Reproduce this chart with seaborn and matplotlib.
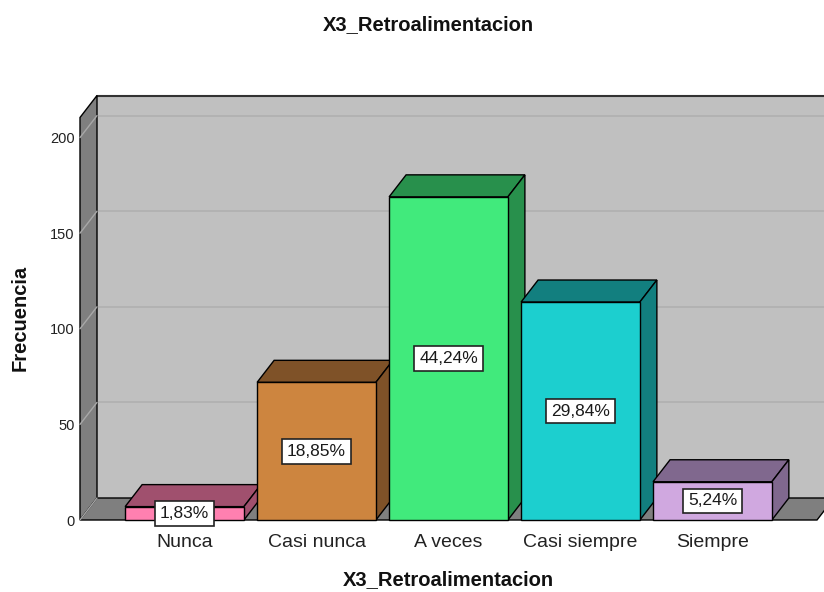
import numpy as np
import pandas as pd
import matplotlib
matplotlib.use("Agg")
import matplotlib.pyplot as plt
import seaborn as sns
from matplotlib.patches import Polygon, Rectangle

# ---- data ----
categories = ["Nunca", "Casi nunca", "A veces", "Casi siempre", "Siempre"]
frecuencia = [7, 72, 169, 114, 20]
porcentajes = ["1,83%", "18,85%", "44,24%", "29,84%", "5,24%"]
y_ticks = [0, 50, 100, 150, 200]
front_colors = ["#FF80B0", "#CD853F", "#41EA7C", "#1CCFCF", "#D0A8E0"]
shade_colors = ["#A0506E", "#7F5228", "#28904C", "#127F7F", "#80688E"]
title = "X3_Retroalimentacion"
xlabel = "X3_Retroalimentacion"
ylabel = "Frecuencia"

sns.set_theme(style="white")
plt.rcParams['font.family'] = ['Liberation Sans', 'DejaVu Sans']

W, H = 824, 592
fig = plt.figure(figsize=(W / 100, H / 100), dpi=100)
L, R, B, T = 80, 817, 520, 117.5
ax = fig.add_axes([L / W, 1 - B / H, (R - L) / W, (B - T) / H])
ax.patch.set_visible(False)

df = pd.DataFrame({"cat": categories, "freq": frecuencia})
sns.barplot(data=df, x="cat", y="freq", hue="cat", palette=front_colors,
            width=0.9, edgecolor="black", linewidth=1, ax=ax,
            legend=False, saturation=1)
bars = sorted([p for p in ax.patches if isinstance(p, Rectangle)], key=lambda p: p.get_x())

x0, x1 = -0.792, 4.792
ytop = 210.5
ax.set_xlim(x0, x1)
ax.set_ylim(0, ytop)

# depth offsets (pixels -> data)
DXp, DYp = 17, 22
dx = DXp * (x1 - x0) / (R - L)
dy = DYp * ytop / (B - T)

wall_gray = "#C0C0C0"
side_gray = "#7F7F7F"

# back wall
ax.add_patch(Polygon([(x0 + dx, dy), (x1 + dx, dy), (x1 + dx, ytop + dy), (x0 + dx, ytop + dy)],
                     closed=True, fc=wall_gray, ec="none", clip_on=False, zorder=0.1))
ax.plot([x0 + dx, x1 + dx], [ytop + dy, ytop + dy], color="#333333", lw=1.5,
        clip_on=False, zorder=0.3)
# left side panel
ax.add_patch(Polygon([(x0, 0), (x0, ytop), (x0 + dx, ytop + dy), (x0 + dx, dy)],
                     closed=True, fc=side_gray, ec="black", lw=1, clip_on=False, zorder=0.5))
# floor
ax.add_patch(Polygon([(x0, 0), (x1, 0), (x1 + dx, dy), (x0 + dx, dy)],
                     closed=True, fc=side_gray, ec="black", lw=1, clip_on=False, zorder=0.5))
# grid lines
for v in y_ticks[1:]:
    ax.plot([x0 + dx, x1 + dx], [v + dy, v + dy], color="#B0B0B0", lw=1.2,
            clip_on=False, zorder=0.2)
for v in y_ticks:
    ax.plot([x0, x0 + dx], [v, v + dy], color="#A8A8A8", lw=1,
            clip_on=False, zorder=0.6)

# 3D bars
for i, p in enumerate(bars):
    x, w, h = p.get_x(), p.get_width(), p.get_height()
    z = 2 + 2 * i
    ax.add_patch(Polygon([(x, h), (x + w, h), (x + w + dx, h + dy), (x + dx, h + dy)],
                         closed=True, fc=shade_colors[i], ec="black", lw=1, zorder=z,
                         clip_on=False))
    ax.add_patch(Polygon([(x + w, 0), (x + w + dx, dy), (x + w + dx, h + dy), (x + w, h)],
                         closed=True, fc=shade_colors[i], ec="black", lw=1, zorder=z,
                         clip_on=False))
    p.set_zorder(z + 1)
    p.set_clip_on(False)
    ax.text(x + w / 2, h / 2, porcentajes[i], ha="center", va="center", fontsize=12.5,
            color="#1a1a1a", zorder=30,
            bbox=dict(boxstyle="square,pad=0.28", fc="white", ec="#222222", lw=1.2))

for s in ax.spines.values():
    s.set_visible(False)
ax.set_xticks(range(len(categories)))
ax.set_xticklabels(categories, fontsize=14, color="#222222")
ax.set_yticks(y_ticks)
ax.set_yticklabels([str(v) for v in y_ticks], fontsize=10.5, color="#222222")
ax.tick_params(axis="x", length=0, pad=10)
ax.tick_params(axis="y", length=0, pad=4)
ax.set_xlabel("")
ax.set_ylabel("")

fig.text(428 / W, 1 - 25 / H, title, ha="center", va="center", fontsize=14.5,
         fontweight="bold", color="#111111")
fig.text(448 / W, 1 - 580 / H, xlabel, ha="center", va="center", fontsize=14.5,
         fontweight="bold", color="#111111")
fig.text(20 / W, 1 - 318 / H, ylabel, ha="center", va="center", fontsize=14.5,
         fontweight="bold", rotation=90, color="#111111")

fig.savefig("out.png", dpi=100)
